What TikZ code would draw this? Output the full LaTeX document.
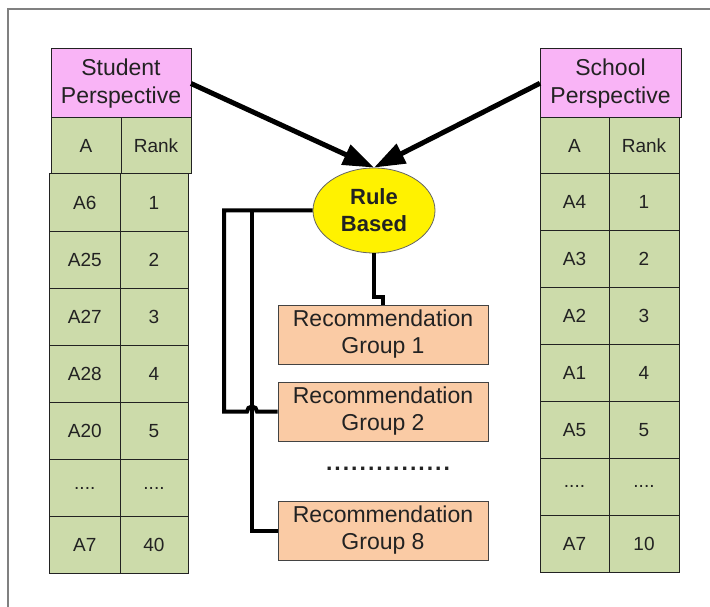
\documentclass[tikz,border=0pt]{standalone}
\usepackage{fontspec}
\setmainfont{Liberation Sans}
\usetikzlibrary{arrows.meta,shapes.geometric}
\definecolor{hdrpink}{HTML}{F9B4F6}
\definecolor{cellgreen}{HTML}{CCDBAA}
\definecolor{recpeach}{HTML}{FACBA5}
\definecolor{ink}{HTML}{222222}
\newcommand\dotgap{.\kern2.0pt}
\newcommand\fourdots{....}
\begin{document}
\begin{tikzpicture}[x=1pt,y=-1pt,
  hdr/.style={draw=ink, line width=1pt, fill=hdrpink, anchor=north west, inner sep=0pt, outer sep=0pt, align=center, font=\fontsize{23}{28}\selectfont, text=ink},
  cell/.style={draw=ink, line width=1pt, fill=cellgreen, anchor=north west, inner sep=0pt, outer sep=0pt, font=\fontsize{19}{22}\selectfont, text=ink},
  rec/.style={draw=ink!85, line width=1pt, fill=recpeach, align=center, minimum width=210pt, minimum height=59pt, inner sep=0pt, font=\fontsize{23}{27}\selectfont, text=ink},
  rule/.style={ellipse, draw=ink!70, line width=0.8pt, fill=yellow, minimum width=122pt, minimum height=85pt, inner sep=0pt, align=center, font=\bfseries\fontsize{22}{27}\selectfont, text=ink},
  conn/.style={line width=4pt, black},
  feed/.style={line width=5pt, black, -{Triangle[length=31pt,width=21pt]}}
]
\useasboundingbox (0,0) rectangle (710,607);
% frame
\draw[gray, line width=1.5pt] (8,607) -- (8,9) -- (710,9);

% left table
\node[hdr, minimum width=140pt, minimum height=69pt] (sp) at (51,49) {Student\\Perspective};
\node[cell, minimum width=70pt, minimum height=56pt] (lhA) at (51,118) {A};
\node[cell, minimum width=70pt, minimum height=56pt] (lhR) at (121,118) {Rank};
\foreach \a/\r [count=\i from 0] in {A6/1, A25/2, A27/3, A28/4, A20/5, \fourdots/\fourdots, A7/40}{
  \node[cell, minimum width=70.5pt, minimum height=57.14pt] (la\i) at (49.5,174+57.14*\i) {\a};
  \node[cell, minimum width=68pt, minimum height=57.14pt] (lr\i) at (120,174+57.14*\i) {\r};
}

% right table
\node[hdr, minimum width=141pt, minimum height=68.5pt] (scp) at (540,49) {School\\Perspective};
\node[cell, minimum width=69pt, minimum height=56.5pt] (rhA) at (540,117.5) {A};
\node[cell, minimum width=70pt, minimum height=56.5pt] (rhR) at (609,117.5) {Rank};
\foreach \a/\r [count=\i from 0] in {A4/1, A3/2, A2/3, A1/4, A5/5, \fourdots/\fourdots, A7/10}{
  \node[cell, minimum width=69pt, minimum height=56.86pt] (ra\i) at (540,174+56.86*\i) {\a};
  \node[cell, minimum width=70pt, minimum height=56.86pt] (rr\i) at (609,174+56.86*\i) {\r};
}

% rule based
\node[rule] (rb) at (374,210.5) {Rule\\Based};

% recommendation groups
\node[rec] (g1) at (383,334.5) {Recommendation\\Group 1};
\node[rec] (g2) at (383,411.5) {Recommendation\\Group 2};
\node[rec] (g8) at (383,530.5) {Recommendation\\Group 8};
\node[font=\bfseries\fontsize{23}{23}\selectfont, text=ink, inner sep=0pt] (dots) at (388,469)
  {\dotgap\dotgap\dotgap\dotgap\dotgap\dotgap\dotgap\dotgap\dotgap\dotgap\dotgap\dotgap\dotgap\dotgap.};

% arrows
\draw[feed] (sp.east) -- (rb.north);
\draw[feed] (scp.west) -- (rb.north);

% connectors
\coordinate (bendA) at (224,210.5);
\coordinate (bendB) at (252,210.5);
\coordinate (jog) at (374,297);
\draw[conn] (rb.south) -- (jog) -| (g1.north);
\draw[conn] (rb.west) -- (bendA) |- ([xshift=-5pt]bendB |- g2.west)
  arc[start angle=180, end angle=0, radius=5pt] -- (g2.west);
\draw[conn] (bendB) |- (g8.west);
\end{tikzpicture}
\end{document}
